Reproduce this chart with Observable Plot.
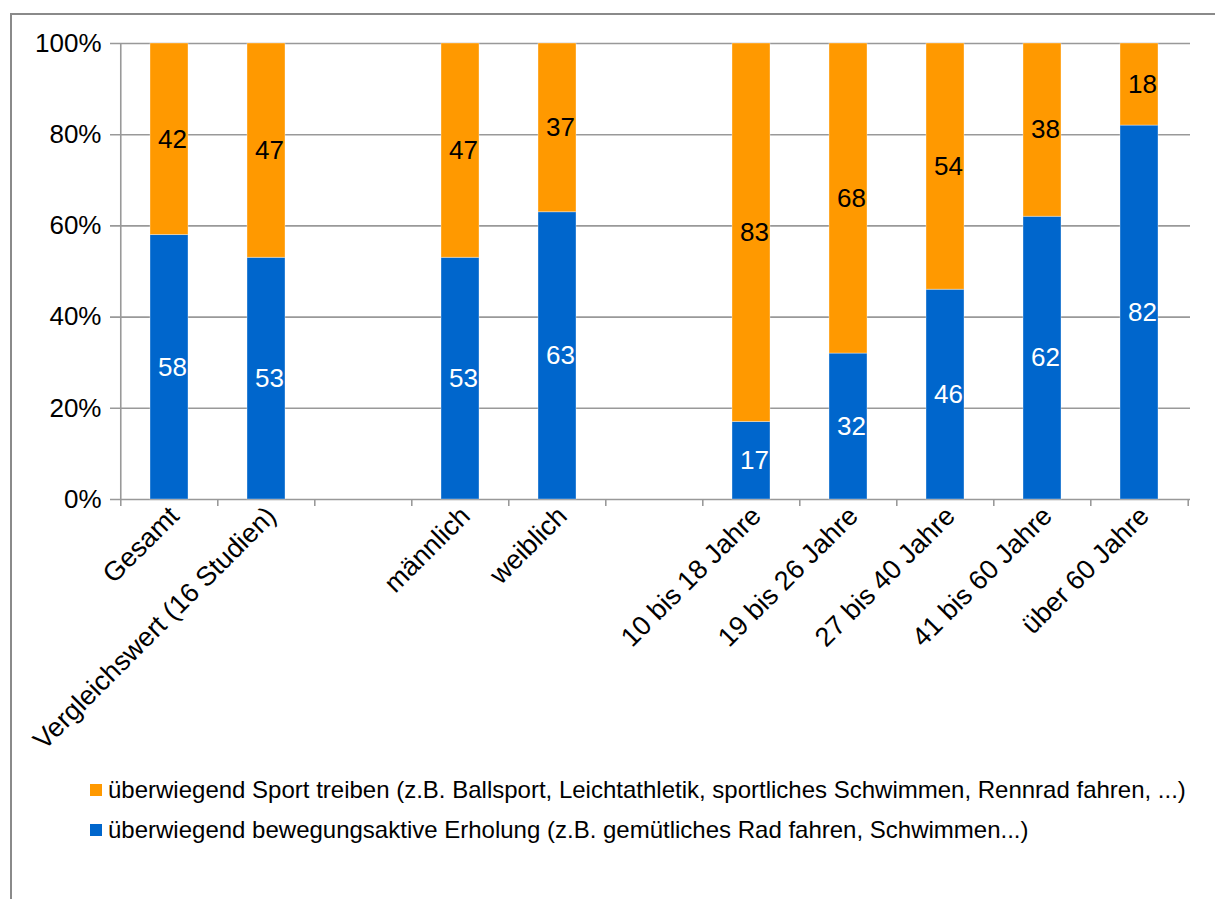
<!DOCTYPE html>
<html>
<head>
<meta charset="utf-8">
<script src="https://cdn.jsdelivr.net/npm/d3@7"></script>
<script src="https://cdn.jsdelivr.net/npm/@observablehq/plot@0.6"></script>
<style>
  html, body { margin: 0; padding: 0; background: #fff; overflow: hidden; }
  body { width: 1215px; height: 899px; position: relative; font-family: "Liberation Sans", Arial, sans-serif; }
  #frame { position: absolute; left: 10px; top: 13px; width: 1400px; height: 1000px; border: 2px solid #8a8a8a; box-sizing: border-box; pointer-events: none; }
  #chart svg { display: block; }
  #legend { position: absolute; left: 90px; top: 770px; font-size: 24px; color: #000; }
  .row { height: 40px; display: flex; align-items: center; }
  .sw { width: 12px; height: 12px; margin-right: 6px; }
</style>
</head>
<body>
<div id="chart"></div>
<div id="legend"></div>
<div id="frame"></div>
<script>
const categories = ["Gesamt", "Vergleichswert (16 Studien)", "", "männlich", "weiblich", " ", "10 bis 18 Jahre", "19 bis 26 Jahre", "27 bis 40 Jahre", "41 bis 60 Jahre", "über 60 Jahre"];
const shownCategories = ["Gesamt", "Vergleichswert (16 Studien)", "männlich", "weiblich", "10 bis 18 Jahre", "19 bis 26 Jahre", "27 bis 40 Jahre", "41 bis 60 Jahre", "über 60 Jahre"];
const erholung = [58, 53, 53, 63, 17, 32, 46, 62, 82];
const sport = [42, 47, 47, 37, 83, 68, 54, 38, 18];
const seriesNames = ["überwiegend bewegungsaktive Erholung (z.B. gemütliches Rad fahren, Schwimmen...)", "überwiegend Sport treiben (z.B. Ballsport, Leichtathletik, sportliches Schwimmen, Rennrad fahren, ...)"];
const seriesColors = ["#0066CC", "#FF9900"];
const labelColors = ["#ffffff", "#000000"];
const yTicks = [0, 20, 40, 60, 80, 100];

const data = [];
shownCategories.forEach((c, i) => {
  data.push({cat: c, series: seriesNames[0], value: erholung[i], order: 0});
  data.push({cat: c, series: seriesNames[1], value: sport[i], order: 1});
});

const W = 1215, H = 770, mL = 118, mR = 25, mT = 43, mB = 271;
const step = (W - mL - mR) / categories.length;
const grid = "#999999";

const chart = Plot.plot({
  width: W, height: H,
  marginLeft: mL, marginRight: mR, marginTop: mT, marginBottom: mB,
  style: {fontFamily: "'Liberation Sans', Arial, sans-serif", fontSize: "26px", color: "#000", background: "#fff"},
  x: {domain: categories, paddingInner: 0.61, paddingOuter: 0.305, axis: null, label: null},
  y: {domain: [0, 100], axis: null, label: null},
  color: {domain: seriesNames, range: seriesColors},
  marks: [
    Plot.ruleY(yTicks, {stroke: grid, strokeWidth: 1.6, insetLeft: -8}),
    Plot.axisY({ticks: yTicks, tickFormat: d => d + "%", tickSize: 0, tickPadding: 17, fontSize: 26, stroke: "none", label: null}),
    Plot.ruleX([categories[0]], {x: d => d, y1: 0, y2: 100, dx: -step / 2, stroke: grid, strokeWidth: 1.6}),
    Plot.ruleX(categories, {x: d => d, y1: 0, y2: 0, insetBottom: -7, dx: -step / 2, stroke: grid, strokeWidth: 1.6}),
    Plot.ruleX([categories[categories.length - 1]], {x: d => d, y1: 0, y2: 0, insetBottom: -7, dx: step / 2, stroke: grid, strokeWidth: 1.6}),
    Plot.barY(data, Plot.stackY({x: "cat", y: "value", fill: "series", order: "order", stroke: "#ffffff", strokeOpacity: 0.35, strokeWidth: 1})),
    Plot.text(data, Plot.stackY({x: "cat", y: "value", order: "order", text: d => String(d.value), fill: d => labelColors[d.order], fontSize: 26, dx: 3})),
    Plot.axisX({tickSize: 0, tickPadding: 12, tickRotate: -45, fontSize: 27, dx: 5, stroke: "none", label: null,
      tickFormat: d => d.trim() === "" ? "" : d})
  ]
});
document.getElementById("chart").appendChild(chart);

const legend = document.getElementById("legend");
[1, 0].forEach(i => {
  const row = document.createElement("div");
  row.className = "row";
  const sw = document.createElement("div");
  sw.className = "sw";
  sw.style.background = seriesColors[i];
  const t = document.createElement("span");
  t.textContent = seriesNames[i];
  row.appendChild(sw);
  row.appendChild(t);
  legend.appendChild(row);
});
</script>
</body>
</html>
